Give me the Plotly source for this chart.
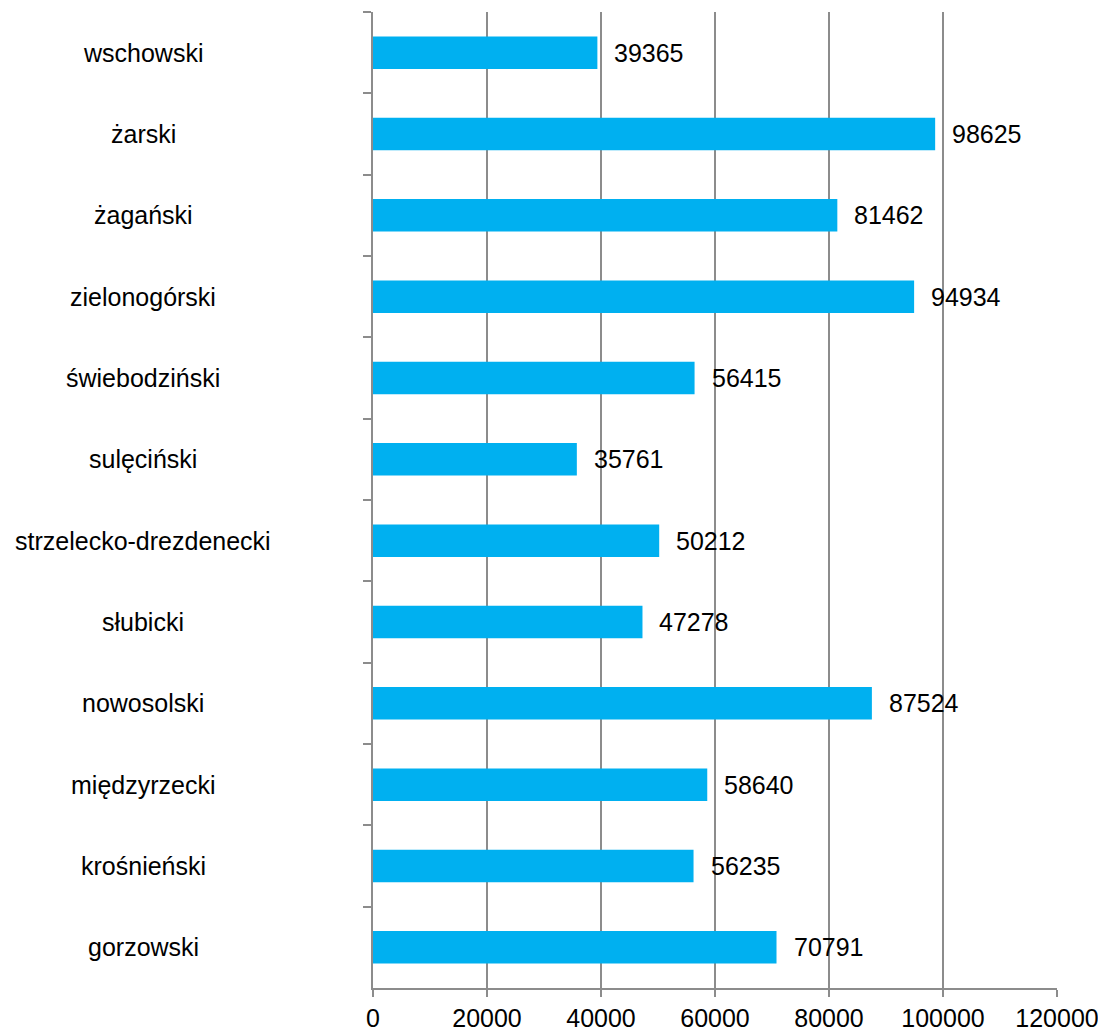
import plotly.graph_objects as go

categories = ["wschowski", "żarski", "żagański", "zielonogórski", "świebodziński",
              "sulęciński", "strzelecko-drezdenecki", "słubicki", "nowosolski",
              "międzyrzecki", "krośnieński", "gorzowski"]
values = [39365, 98625, 81462, 94934, 56415, 35761, 50212, 47278, 87524, 58640, 56235, 70791]
x_ticks = [0, 20000, 40000, 60000, 80000, 100000, 120000]

FONT = "Liberation Sans, Arial, sans-serif"
GRID = "#8c8c8c"
FS = 25

fig = go.Figure(go.Bar(
    x=values, y=categories, orientation="h",
    marker=dict(color="#00B0F0", line=dict(width=0)),
    width=0.4, hoverinfo="x+y",
))

annotations = []
for c, v in zip(categories, values):
    annotations.append(dict(x=v, y=c, xref="x", yref="y", text=str(v),
                            showarrow=False, xanchor="left", xshift=15,
                            font=dict(family=FONT, size=FS, color="#000000")))
    annotations.append(dict(x=-0.336, y=c, xref="paper", yref="y", text=c,
                            showarrow=False, xanchor="center",
                            font=dict(family=FONT, size=FS, color="#000000")))

fig.update_layout(
    width=1106, height=1033,
    margin=dict(l=365, r=57, t=4, b=53),
    paper_bgcolor="white", plot_bgcolor="white",
    showlegend=False,
    annotations=annotations,
    font=dict(family=FONT, size=FS, color="#000000"),
    xaxis=dict(range=[0, 120000], tickvals=x_ticks, ticktext=[str(t) for t in x_ticks],
               showgrid=True, gridcolor=GRID, gridwidth=1.5,
               showline=True, linecolor=GRID, linewidth=1.5,
               ticks="outside", ticklen=7, tickcolor=GRID, tickwidth=1.5,
               zeroline=False, automargin=False,
               tickfont=dict(family=FONT, size=FS, color="#000000")),
    yaxis=dict(autorange="reversed", categoryorder="array", categoryarray=categories,
               showticklabels=False, showgrid=False, zeroline=False,
               showline=True, linecolor=GRID, linewidth=1.5,
               ticks="outside", tickson="boundaries", ticklen=8,
               tickcolor=GRID, tickwidth=1.5, automargin=False),
)

fig.write_html("out.html")
